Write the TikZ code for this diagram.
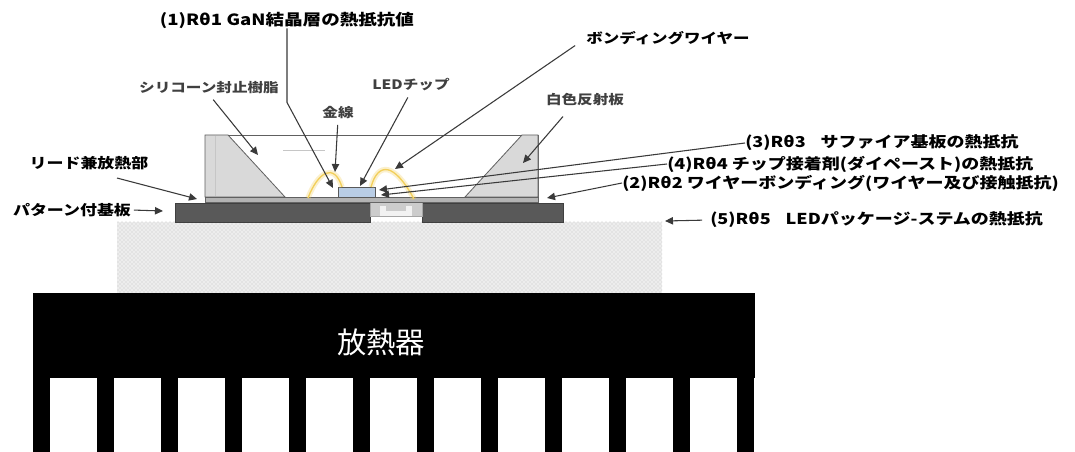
\documentclass[tikz,border=0pt]{standalone}
\usepackage{fontspec}
\newfontfamily\jp[FakeStretch=1.2]{Noto Sans CJK JP}
\newfontfamily\jpn{Noto Sans CJK JP}
\usetikzlibrary{shapes,arrows.meta,positioning,calc,patterns}
\definecolor{boardgray}{HTML}{595959}
\definecolor{leadgray}{HTML}{B4B4B4}
\definecolor{reflgray}{HTML}{D9D9D9}
\definecolor{chipblue}{HTML}{B9CDE5}
\definecolor{wirecol}{HTML}{F2CF5B}
\definecolor{linegray}{HTML}{3A3A3A}

\begin{document}
\begin{tikzpicture}[x=0.75pt, y=-0.75pt]
  \tikzstyle{lbl}=[inner sep=0pt, font=\jp\bfseries\fontsize{11.25}{12}\selectfont]
  \tikzstyle{sublbl}=[inner sep=0pt, text=black!75, font=\jp\bfseries\fontsize{9.75}{11}\selectfont]
  \tikzstyle{ptr}=[draw=linegray, line width=0.8pt, -{Triangle[length=6pt,width=5.5pt]}]
  \tikzstyle{wire}=[draw=wirecol, line width=1pt, preaction={draw=wirecol, line width=4pt, opacity=.3}]

  \useasboundingbox (0,0) rectangle (1075,452);
  \fill[white] (0,0) rectangle (1075,452);

  % package substrate
  \fill[gray!14] (117,222) rectangle (662,293);
  \fill[pattern=crosshatch dots, pattern color=gray!45] (117,222) rectangle (662,293);

  % heat sink with fins
  \fill[black] (33,293) rectangle (755,378);
  \foreach \i in {0,...,11}
    \fill[black] (33+64*\i,377) rectangle (50+64*\i,452);
  \node[text=white, font=\jpn\fontsize{22}{24}\selectfont] (hs) at (381,342) {放熱器};

  % patterned boards
  \filldraw[fill=boardgray, draw=black!75] (175,203) rectangle (370,222);
  \filldraw[fill=boardgray, draw=black!75] (422,203) rectangle (563,222);

  % centre slug
  \filldraw[fill=gray!40, draw=gray!70] (370,198) rectangle (422,216);
  \fill[gray!10] (380,206) rectangle (412,216);
  \fill[gray!40] (386,206) rectangle (406,211);

  % lead / heat spreader strip
  \filldraw[fill=leadgray, draw=gray!80!black] (205,197) rectangle (538,202);

  % housing with white reflector
  \filldraw[fill=white, draw=gray!75!black, line width=0.6pt] (205,135) rectangle (538,197);
  \filldraw[fill=reflgray, draw=gray!75!black, line width=0.6pt] (205,135) -- (228,135) -- (285,197) -- (205,197) -- cycle;
  \filldraw[fill=reflgray, draw=gray!75!black, line width=0.6pt] (522,135) -- (538,135) -- (538,197) -- (465,197) -- cycle;
  \draw[gray!45] (215,136) -- (215,196);
  \draw[gray!45, line width=0.6pt] (283,150) -- (325,150);

  % chip
  \node[draw=gray!70!black, fill=chipblue, minimum width=27.75pt, minimum height=7.5pt, inner sep=0pt] (chip) at (356.5,192) {};

  % gold wires
  \draw[wire] (308,198) .. controls (318,172) and (334,162) .. (342,187);
  \draw[wire] (371,187) .. controls (378,162) and (394,162) .. (414,199);

  % target points
  \coordinate (t1) at (333,188);
  \coordinate (tsil) at (258,155);
  \coordinate (tkin) at (335,172);
  \coordinate (tled) at (360,186);
  \coordinate (tbw) at (395,169);
  \coordinate (trefl) at (523,163);
  \coordinate (tlead) at (197,199);
  \coordinate (tpcb) at (163,211);
  \coordinate (t3) at (379,190);
  \coordinate (t4) at (381,195);
  \coordinate (t2) at (547,198);
  \coordinate (t5) at (665,221);

  % labels
  \node[lbl, font=\jp\bfseries\fontsize{11.6}{12}\selectfont] (r1) at (287,20) {(1)Rθ1 GaN結晶層の熱抵抗値};
  \node[sublbl] (sil) at (209,88) {シリコーン封止樹脂};
  \node[sublbl] (kin) at (338,113) {金線};
  \node[sublbl] (led) at (411,85) {LEDチップ};
  \node[lbl, font=\jp\bfseries\fontsize{10.3}{12}\selectfont] (bw) at (668,38) {ボンディングワイヤー};
  \node[sublbl] (refl) at (585,100) {白色反射板};
  \node[lbl, font=\jp\bfseries\fontsize{10.6}{12}\selectfont] (lead) at (89,163) {リード兼放熱部};
  \node[lbl, font=\jp\bfseries\fontsize{10.6}{12}\selectfont] (pcb) at (72,210) {パターン付基板};
  \node[lbl, anchor=west] (r3) at (745,143) {(3)Rθ3\quad サファイア基板の熱抵抗};
  \node[lbl, anchor=west] (r4) at (667,164) {(4)Rθ4 チップ接着剤(ダイペースト)の熱抵抗};
  \node[lbl, anchor=west] (r2) at (622,183) {(2)Rθ2 ワイヤーボンディング(ワイヤー及び接触抵抗)};
  \node[lbl, anchor=west] (r5) at (710,220) {(5)Rθ5\quad LEDパッケージ-ステムの熱抵抗};

  % pointers
  \draw[ptr] (r1.south) -- ++(0,74) -- (t1);
  \draw[ptr, shorten <=5pt] (sil.south) -- (tsil);
  \draw[ptr, shorten <=4pt] (kin.south) -- (tkin);
  \draw[ptr, shorten <=5pt] (led.south) -- (tled);
  \draw[ptr, shorten <=10pt] (bw.west) -- (tbw);
  \draw[ptr] ($(refl.south)+(-22,10)$) -- (trefl);
  \draw[ptr] ($(lead.south)+(28,8)$) -- (tlead);
  \draw[ptr, shorten <=2pt] (pcb.east) -- (tpcb);
  \draw[ptr] (r3.west) -- (t3);
  \draw[ptr] (r4.west) -- (t4);
  \draw[ptr] (r2.west) -- (t2);
  \draw[ptr, shorten <=6pt] (r5.west) -- (t5);
\end{tikzpicture}
\end{document}
